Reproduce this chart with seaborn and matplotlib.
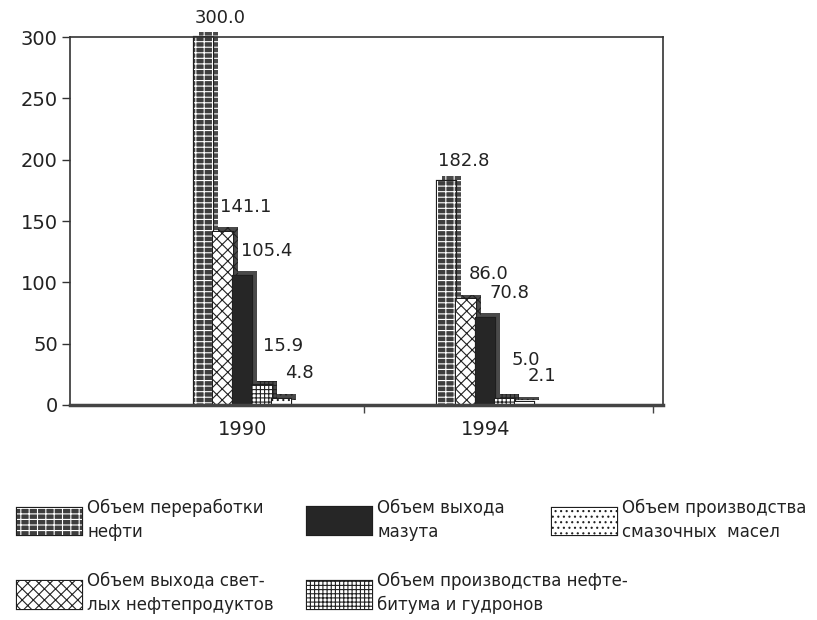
import pandas as pd
import matplotlib.pyplot as plt
import matplotlib.patches as mpatches
import matplotlib.patheffects as pe
import seaborn as sns

# данные
years = ['1990', '1994']
series = [
    'Объем переработки\nнефти',
    'Объем выхода свет-\nлых нефтепродуктов',
    'Объем выхода\nмазута',
    'Объем производства нефте-\nбитума и гудронов',
    'Объем производства\nсмазочных  масел',
]
pererabotka = [300.0, 182.8]
svetlye = [141.1, 86.0]
mazut = [105.4, 70.8]
bitum = [15.9, 5.0]
masla = [4.8, 2.1]

# стили штриховки
faces = ['#3e3e3e', 'white', '#262626', 'white', 'white']
hatches = ['---||', 'xxx', '', '++++', '...']
hatch_cols = ['white', '#222222', '#262626', '#222222', '#222222']
label_off = [(12, 14), (16, 18), (17, 18), (15, 28), (13, 19)]

rows = []
for name, vals in zip(series, [pererabotka, svetlye, mazut, bitum, masla]):
    for y, v in zip(years, vals):
        rows.append({'year': y, 'series': name, 'value': v})
df = pd.DataFrame(rows)

sns.set_style('white')
plt.rcParams['font.family'] = ['DejaVu Sans']
plt.rcParams['hatch.linewidth'] = 0.8

fig = plt.figure(figsize=(8.17, 6.2), dpi=100)
ax = fig.add_axes([0.086, 0.347, 0.725, 0.593])

sns.barplot(data=df, x='year', y='value', hue='series', hue_order=series,
            order=years, width=0.4, ax=ax, legend=False, saturation=1)

outline = [pe.Stroke(linewidth=1.6, foreground='#1e1e1e'), pe.Normal()]
shadow = [pe.SimplePatchShadow(offset=(3.5, 3.5), shadow_rgbFace='#4a4a4a', alpha=1.0),
          pe.Stroke(linewidth=1.6, foreground='#1e1e1e'), pe.Normal()]

for i, cont in enumerate(ax.containers):
    for bar in cont:
        bar.set_facecolor(faces[i])
        bar.set_edgecolor(hatch_cols[i])
        bar.set_hatch(hatches[i])
        bar.set_linewidth(0)
        bar.set_path_effects(shadow)
        bar.set_clip_on(False)
        ax.annotate(f'{bar.get_height():.1f}',
                    (bar.get_x() + bar.get_width() / 2, bar.get_height()),
                    xytext=label_off[i], textcoords='offset points',
                    ha='center', va='center', fontsize=13, color='#222222',
                    annotation_clip=False)

ax.set_xlim(-0.71, 1.73)
ax.set_ylim(0, 300)
ax.set_yticks([0, 50, 100, 150, 200, 250, 300])
ax.set_xlabel('')
ax.set_ylabel('')
ax.tick_params(axis='y', length=6, width=1, color='#333333', labelsize=14,
               labelcolor='#222222', direction='out', left=True, pad=3)
ax.tick_params(axis='x', length=0, labelsize=14, labelcolor='#222222', pad=11)
ax.set_xticks([0.5, 1.69], minor=True)
ax.tick_params(axis='x', which='minor', length=6, width=1, color='#444444',
               direction='out', bottom=True)
for side in ['left', 'top', 'right']:
    ax.spines[side].set_color('#333333')
    ax.spines[side].set_linewidth(1.2)
ax.spines['bottom'].set_color('#444444')
ax.spines['bottom'].set_linewidth(2.5)

# легенда: три колонки, каждая отдельной легендой
handles = []
for i in range(len(series)):
    h = mpatches.Patch(facecolor=faces[i], edgecolor=hatch_cols[i],
                       hatch=hatches[i], linewidth=0, label=series[i])
    h.set_path_effects(outline)
    handles.append(h)

leg_kw = dict(loc='upper left', frameon=False, fontsize=12, ncol=1,
              handlelength=3.9, handleheight=2.2, handletextpad=0.3,
              labelspacing=1.85, labelcolor='#222222',
              borderaxespad=0, borderpad=0)
columns = [([handles[0], handles[1]], 0.021),
           ([handles[2], handles[3]], 0.376),
           ([handles[4]], 0.676)]
for hs, x0 in columns:
    leg = fig.legend(handles=hs, bbox_to_anchor=(x0, 0.196), **leg_kw)
    for t in leg.get_texts():
        t.set_linespacing(1.45)

fig.savefig('out.png', dpi=100)
